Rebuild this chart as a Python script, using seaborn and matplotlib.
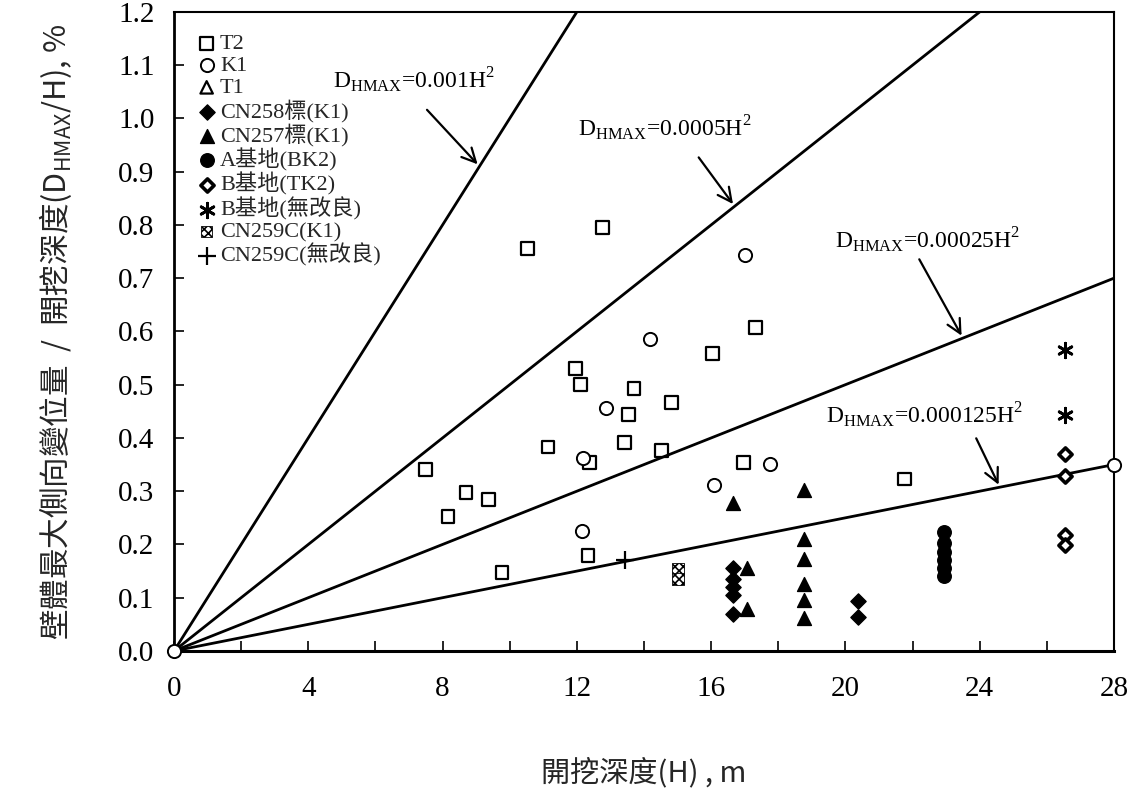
import numpy as np
import pandas as pd
import matplotlib
matplotlib.use("Agg")
import matplotlib.pyplot as plt
import seaborn as sns
from matplotlib.ticker import MultipleLocator, FormatStrFormatter

# ---- data ----
# excavation depth H (m) and Dhmax/H (%)
t2_h = [7.48, 8.16, 8.70, 9.38, 9.77, 10.52, 11.14, 11.97, 12.12, 12.33, 12.37,
        12.77, 13.41, 13.53, 13.70, 14.51, 14.81, 16.03, 16.96, 17.32, 21.76]
t2_d = [0.340, 0.252, 0.297, 0.285, 0.148, 0.755, 0.383, 0.530, 0.500, 0.180, 0.354,
        0.795, 0.392, 0.444, 0.493, 0.376, 0.466, 0.559, 0.354, 0.607, 0.323]

k1_h = [0.0, 12.14, 12.18, 12.86, 14.19, 16.10, 17.01, 17.76, 28.0]
k1_d = [0.0, 0.225, 0.362, 0.456, 0.585, 0.312, 0.743, 0.351, 0.35]

t1_h = []
t1_d = []

cn258_h = [16.65, 16.65, 16.65, 16.65, 16.65, 20.37, 20.37]
cn258_d = [0.155, 0.135, 0.120, 0.105, 0.069, 0.093, 0.063]

cn257_h = [16.66, 17.06, 17.08, 18.77, 18.77, 18.77, 18.77, 18.77, 18.77]
cn257_d = [0.277, 0.155, 0.079, 0.302, 0.210, 0.172, 0.126, 0.096, 0.061]

a_bk2_h = [22.94, 22.94, 22.94, 22.94, 22.94, 22.94]
a_bk2_d = [0.224, 0.202, 0.186, 0.171, 0.155, 0.140]

b_tk2_h = [26.54, 26.54, 26.54, 26.54]
b_tk2_d = [0.369, 0.329, 0.218, 0.199]

b_none_h = [26.54, 26.54]
b_none_d = [0.565, 0.443]

cn259_k1_h = [15.02, 15.02]
cn259_k1_d = [0.155, 0.135]

cn259_none_h = [13.43]
cn259_none_d = [0.170]

# envelope lines D_HMAX = c * H^2  ->  D/H (%) = 100 * c * H
coefs = [0.001, 0.0005, 0.00025, 0.000125]
coef_labels = ["0.001", "0.0005", "0.00025", "0.000125"]
line_h = [0.0, 28.0]

sns.set_theme(style="white")
plt.rcParams['font.family'] = ['Liberation Serif', 'Noto Sans CJK TC']
plt.rcParams['mathtext.fontset'] = 'custom'
plt.rcParams['mathtext.rm'] = 'Liberation Serif'
plt.rcParams['hatch.linewidth'] = 1.2

fig = plt.figure(figsize=(11.38, 7.88), dpi=100)
ax = fig.add_axes([0.1529, 0.1739, 0.826, 0.811])

# envelope lines
for c in coefs:
    df_line = pd.DataFrame({'H': line_h, 'R': [100 * c * h for h in line_h]})
    sns.lineplot(data=df_line, x='H', y='R', ax=ax, color='black', lw=2, legend=False)

# scatter series: (label, x, y, style)
series = [
    ("T2", t2_h, t2_d, dict(marker='s', s=85, facecolors='none', edgecolors='black', linewidths=1.6)),
    ("K1", k1_h, k1_d, dict(marker='o', s=90, facecolors='white', edgecolors='black', linewidths=1.4)),
    ("T1", t1_h, t1_d, dict(marker='^', s=80, facecolors='none', edgecolors='black', linewidths=1.6)),
    ("CN258標(K1)", cn258_h, cn258_d, dict(marker='D', s=60, facecolors='black', edgecolors='black')),
    ("CN257標(K1)", cn257_h, cn257_d, dict(marker='^', s=100, facecolors='black', edgecolors='black')),
    ("A基地(BK2)", a_bk2_h, a_bk2_d, dict(marker='o', s=95, facecolors='black', edgecolors='black')),
    ("B基地(TK2)", b_tk2_h, b_tk2_d, dict(marker='D', s=45, facecolors='white', edgecolors='black', linewidths=2.6)),
    ("B基地(無改良)", b_none_h, b_none_d, dict(marker=(6, 2, 0), s=110, facecolors='black',
                                            edgecolors='black', linewidths=2)),
    ("CN259C(K1)", cn259_k1_h, cn259_k1_d, dict(marker='s', s=70, facecolors='white', edgecolors='black',
                                                 linewidths=0.6, hatch='xxxx')),
    ("CN259C(無改良)", cn259_none_h, cn259_none_d, dict(marker='+', s=150, facecolors='black',
                                                      edgecolors='black', linewidths=1.6)),
]
handles = []
for name, hh, dd, kw in series:
    if len(hh) > 0:
        sc = ax.scatter(hh, dd, zorder=3, **kw)
        sc.set_clip_on(False)
    # legend proxy
    handles.append(ax.scatter([], [], label=name, **kw))

# annotations with arrows
ann_text = [(4.74, 1.072), (12.03, 0.982), (19.69, 0.772), (19.42, 0.443)]
ann_start = [(7.48, 1.020), (15.58, 0.931), (22.16, 0.740), (23.86, 0.404)]
ann_tip = [(9.1, 0.91), (16.7, 0.835), (23.5, 0.5875), (24.6, 0.3075)]
for lab, tpos, spos, tip in zip(coef_labels, ann_text, ann_start, ann_tip):
    ax.text(tpos[0], tpos[1], r'D$_{\mathregular{HMAX}}$=' + lab + r'H$^{\mathregular{2}}$',
            fontsize=17, va='center', ha='left', color='black')
    ax.annotate('', xy=tip, xytext=spos,
                arrowprops=dict(arrowstyle='->', color='black', lw=1.6, mutation_scale=25))

ax.set_xlim(0, 28)
ax.set_ylim(0, 1.2)
ax.xaxis.set_major_locator(MultipleLocator(4))
ax.xaxis.set_minor_locator(MultipleLocator(2))
ax.yaxis.set_major_locator(MultipleLocator(0.1))
ax.yaxis.set_major_formatter(FormatStrFormatter('%.1f'))
ax.tick_params(axis='both', which='both', direction='in', colors='black', labelsize=21,
               bottom=True, left=True, top=False, right=False)
ax.tick_params(axis='both', which='major', length=7, width=1.2, pad=14)
ax.tick_params(axis='x', which='minor', length=7, width=1.2)
ax.tick_params(axis='x', which='major', pad=18)
for sp in ax.spines.values():
    sp.set_color('black')
    sp.set_linewidth(1.5)
ax.spines['bottom'].set_linewidth(2.2)
ax.spines['left'].set_linewidth(2)

ax.set_xlabel('開挖深度(H) , m', fontsize=21, labelpad=40, family=['Noto Sans CJK TC'])
ax.set_ylabel(r'壁體最大側向變位量  /  開挖深度(D$_{\mathregular{HMAX}}$/H), %', fontsize=22,
              labelpad=32, family=['Noto Sans CJK TC'])

leg = ax.legend(handles=handles, loc='upper left', bbox_to_anchor=(0.004, 0.99), frameon=False,
                fontsize=16, handletextpad=0.0, labelspacing=0.06, handlelength=1.2, borderpad=0.2)

fig.savefig('out.png', dpi=100, facecolor='white')
